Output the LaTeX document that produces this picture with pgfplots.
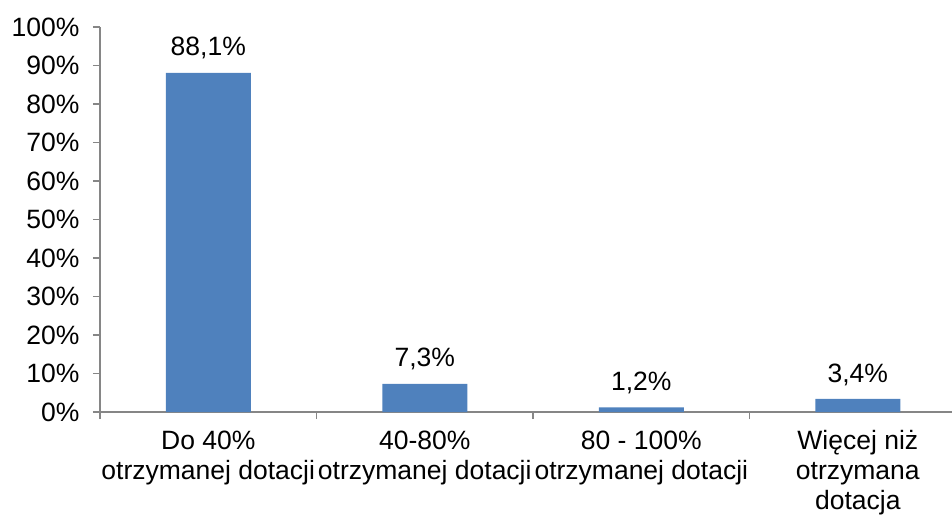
\documentclass[border=0pt]{standalone}
\usepackage{fontspec}
\setmainfont{Liberation Sans}
\usepackage{pgfplots}
\pgfplotsset{compat=1.18}
\definecolor{barblue}{HTML}{4F81BD}
\definecolor{axgray}{HTML}{868686}
\newcommand{\cf}{\fontsize{26.5bp}{30bp}\selectfont}
\begin{document}
\begin{tikzpicture}
\begin{axis}[name=ax, scale only axis, width=852bp, height=385bp,
  xmin=-0.5, xmax=3.435, ymin=0, ymax=100,
  axis lines*=left,
  axis line style={axgray, line width=1.2bp},
  /pgf/number format/assume math mode=true,
  ytick={0,10,...,100},
  yticklabel={\pgfmathprintnumber{\tick}\%},
  yticklabel style={font=\cf, xshift=-10bp},
  xtick={-0.5,0.5,1.5,2.5}, xticklabels={},
  extra x ticks={0,1,2,3},
  extra x tick labels={{Do 40\%\\otrzymanej dotacji},{40-80\%\\otrzymanej dotacji},{80 - 100\%\\otrzymanej dotacji},{Więcej niż\\otrzymana\\dotacja}},
  extra x tick style={major tick length=0pt, tick style={draw=none},
     xticklabel style={align=center, font=\cf, yshift=-15bp}},
  tick align=outside, major tick length=7bp,
  tick style={axgray, line width=1.2bp},
  clip=false,
]
\addplot[ybar, bar width=85bp, fill=barblue, draw=none,
  nodes near coords={\pgfmathprintnumber[fixed,fixed zerofill,precision=1,use comma]{\pgfplotspointmeta}\%},
  nodes near coords style={font=\cf, anchor=south, yshift=10bp, black}]
  coordinates {(0,88.1) (1,7.3) (2,1.2) (3,3.4)};
\end{axis}
\pgfresetboundingbox
\path ([xshift=-100bp,yshift=-103bp]ax.south west) rectangle ([yshift=27bp]ax.north east);
\end{tikzpicture}
\end{document}
